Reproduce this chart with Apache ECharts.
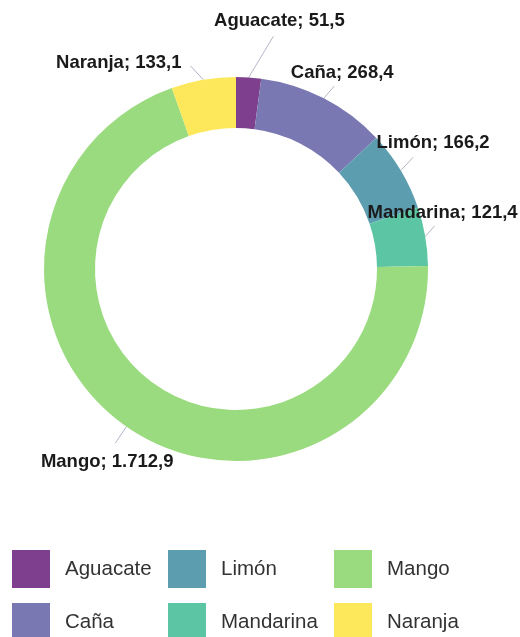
<!DOCTYPE html>
<html>
<head>
<meta charset="utf-8">
<style>
  html, body { margin: 0; padding: 0; background: #ffffff; }
  #chart { width: 520px; height: 637px; }
</style>
<script src="https://cdn.jsdelivr.net/npm/echarts@6/dist/echarts.min.js"></script>
</head>
<body>
<div id="chart"></div>
<script>
// Producción por cultivo (miles de toneladas)
const categories = ['Aguacate', 'Caña', 'Limón', 'Mandarina', 'Mango', 'Naranja'];
const values = [51.5, 268.4, 166.2, 121.4, 1712.9, 133.1];
const colors = ['#7d3f8e', '#7a78b2', '#5c9db0', '#5cc6a4', '#9bdb7f', '#fde85c'];

// Legend columns (3 columns x 2 rows)
const legendColumns = [['Aguacate', 'Caña'], ['Limón', 'Mandarina'], ['Mango', 'Naranja']];

// Leader-line direction/length and text offset for each slice label
const labelPlacement = {
  'Aguacate':  { angle: 31,  len: 48, dx: 6,   dy: -15, align: 'center' },
  'Caña':      { angle: 40,  len: 16, dx: 8,   dy: -13, align: 'center' },
  'Limón':     { angle: 43,  len: 18, dx: 20,  dy: -14, align: 'center' },
  'Mandarina': { angle: 42,  len: 14, dx: 8,   dy: -13, align: 'center' },
  'Mango':     { angle: 214, len: 20, dx: -8,  dy: 19,  align: 'center' },
  'Naranja':   { angle: 317, len: 19, dx: -9,  dy: -3,  align: 'right' }
};

// Spanish number formatting: 1.712,9
function fmt(v) {
  const parts = v.toFixed(1).split('.');
  const intPart = parts[0].replace(/\B(?=(\d{3})+(?!\d))/g, '.');
  return intPart + ',' + parts[1];
}

const FONT = '"Liberation Sans", Arial, Helvetica, sans-serif';
const chart = echarts.init(document.getElementById('chart'), null, { renderer: 'canvas' });

const legendLefts = [12, 168, 334];
const legends = legendColumns.map((col, i) => ({
  orient: 'vertical',
  left: legendLefts[i],
  top: 550,
  height: 120,
  padding: 0,
  data: col,
  icon: 'rect',
  itemWidth: 38,
  itemHeight: 38,
  itemGap: 15,
  selectedMode: false,
  textStyle: { fontFamily: FONT, fontSize: 20.5, color: '#333333', padding: [0, 0, 0, 10] }
}));

chart.setOption({
  backgroundColor: '#ffffff',
  animation: false,
  color: colors,
  legend: legends,
  series: [{
    type: 'pie',
    center: [236, 269],
    radius: [141, 192],
    startAngle: 90,
    clockwise: true,
    avoidLabelOverlap: false,
    data: categories.map((name, i) => ({ name, value: values[i] })),
    label: {
      show: true,
      position: 'outside',
      formatter: p => p.name + '; ' + fmt(p.value),
      fontFamily: FONT,
      fontSize: 18.5,
      fontWeight: 'bold',
      color: '#1a1a1a'
    },
    labelLine: {
      show: true,
      length: 16,
      length2: 0,
      lineStyle: { color: '#b4b6c8', width: 1 }
    },
    labelLayout: function (params) {
      const pl = labelPlacement[categories[params.dataIndex]];
      const pts = params.labelLinePoints;
      if (!pl || !pts) return {};
      const start = pts[0];
      const a = pl.angle * Math.PI / 180;
      const end = [start[0] + pl.len * Math.sin(a), start[1] - pl.len * Math.cos(a)];
      return {
        x: end[0] + pl.dx,
        y: end[1] + pl.dy,
        align: pl.align,
        verticalAlign: 'middle',
        labelLinePoints: [start, end, end]
      };
    },
    itemStyle: { borderWidth: 0 }
  }]
});
</script>
</body>
</html>
